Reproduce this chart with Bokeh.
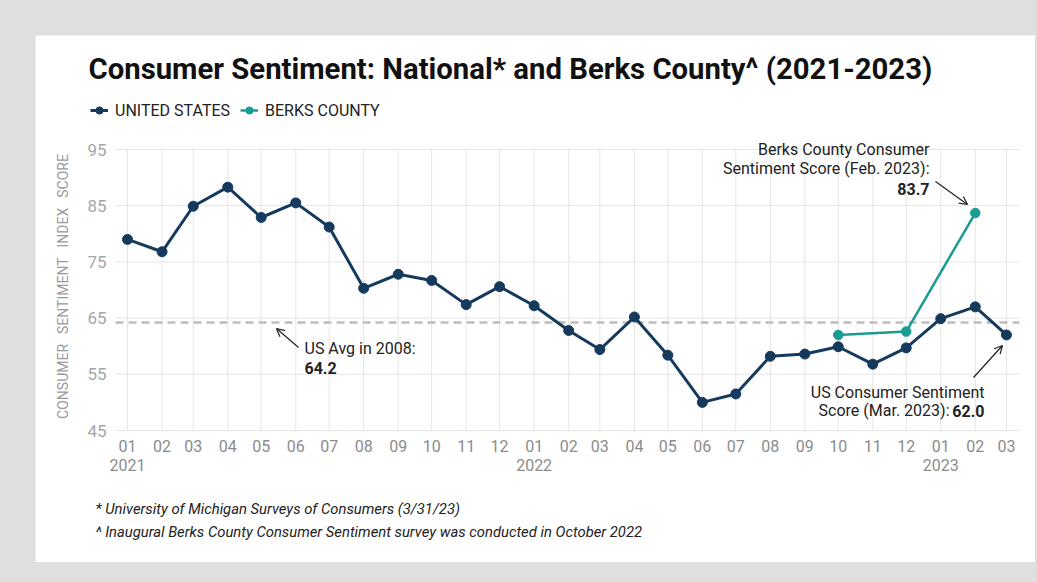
import math
import datetime as dt
from bokeh.plotting import figure
from bokeh.models import (Range1d, FixedTicker, LinearAxis, Label, Arrow, OpenHead,
                          Legend, LegendItem, Column)
from bokeh.embed import file_html
from bokeh.resources import INLINE

# ---------------- data ----------------
months = ["2021-01", "2021-02", "2021-03", "2021-04", "2021-05", "2021-06", "2021-07",
          "2021-08", "2021-09", "2021-10", "2021-11", "2021-12",
          "2022-01", "2022-02", "2022-03", "2022-04", "2022-05", "2022-06", "2022-07",
          "2022-08", "2022-09", "2022-10", "2022-11", "2022-12",
          "2023-01", "2023-02", "2023-03"]
us_values = [79.0, 76.8, 84.9, 88.3, 82.9, 85.5, 81.2, 70.3, 72.8, 71.7, 67.4, 70.6,
             67.2, 62.8, 59.4, 65.2, 58.4, 50.0, 51.5, 58.2, 58.6, 59.9, 56.8, 59.7,
             64.9, 67.0, 62.0]
berks_months = ["2022-10", "2022-12", "2023-02"]
berks_values = [62.0, 62.6, 83.7]
us_avg_2008 = 64.2
y_ticks = [45, 55, 65, 75, 85, 95]
month_labels = [m[5:] for m in months]
year_labels = {"2021-01": "2021", "2022-01": "2022", "2023-01": "2023"}

TITLE = "Consumer Sentiment: National* and Berks County^ (2021-2023)"
Y_LABEL = "\u2002\u2009".join(["CONSUMER", "SENTIMENT", "INDEX", "SCORE"])
FOOTNOTES = ["* University of Michigan Surveys of Consumers (3/31/23)",
             "^ Inaugural Berks County Consumer Sentiment survey was conducted in October 2022"]

NAVY = "#163a5e"
TEAL = "#1a9c94"
GRID = "#e6e6e6"
BG = "#dfdfdf"
INK = "#222222"
TICK = "#8c8c8c"
BASE = dt.date(2021, 1, 1)


def day_of(m):
    y, mo = m.split("-")
    return (dt.date(int(y), int(mo), 1) - BASE).days


us_x = [day_of(m) for m in months]
berks_x = [day_of(m) for m in berks_months]

# ---------------- geometry (page pixels) ----------------
PAGE_W, PAGE_H = 1037, 582
CARD_L, CARD_T, CARD_R, CARD_B = 35, 35, 1035, 562   # white card == plot frame
GL, GT, GR, GB = 115, 149, 1019, 430                # grid area on the page
GX0, GX1 = -10.8, us_x[-1] + 11.7                    # data x at grid left/right
KX = (GX1 - GX0) / (GR - GL)
KY = (max(y_ticks) - min(y_ticks)) / (GB - GT)


def dx(px):
    return GX0 + (px - GL) * KX


def dy(py):
    return max(y_ticks) - (py - GT) * KY


p = figure(width=CARD_R - CARD_L, height=CARD_B - CARD_T, output_backend="svg",
           toolbar_location=None,
           x_range=Range1d(dx(CARD_L), dx(CARD_R)), y_range=Range1d(dy(CARD_B), dy(CARD_T)),
           min_border=0, background_fill_color="white", border_fill_color="white",
           outline_line_color=None)
p.margin = (CARD_T, PAGE_W - CARD_R, PAGE_H - CARD_B, CARD_L)
p.grid.visible = False

# grid lines limited to the chart area
n_x, n_y = len(us_x), len(y_ticks)
p.segment(x0=[GX0] * n_y, y0=y_ticks, x1=[GX1] * n_y, y1=y_ticks, line_color=GRID,
          line_width=1)
p.segment(x0=us_x, y0=[min(y_ticks)] * n_x, x1=us_x, y1=[max(y_ticks)] * n_x,
          line_color=GRID, line_width=1)

# axes: labels drawn inside the card with negative standoffs
p.xaxis.ticker = FixedTicker(ticks=us_x)
p.xaxis.major_label_overrides = {x: lab for x, lab in zip(us_x, month_labels)}
p.xaxis.axis_line_color = None
p.xaxis.major_tick_line_color = None
p.xaxis.minor_tick_line_color = None
p.xaxis.major_label_text_font = "Roboto"
p.xaxis.major_label_text_font_size = "16px"
p.xaxis.major_label_text_color = TICK
p.xaxis.major_label_standoff = (447 - 14) - CARD_B

yr_ticks = [day_of(m) for m in year_labels]
year_axis = LinearAxis(ticker=FixedTicker(ticks=yr_ticks),
                       major_label_overrides={day_of(m): l for m, l in year_labels.items()})
year_axis.axis_line_color = None
year_axis.major_tick_line_color = None
year_axis.minor_tick_line_color = None
year_axis.major_label_text_font = "Roboto"
year_axis.major_label_text_font_size = "16px"
year_axis.major_label_text_color = TICK
year_axis.major_label_standoff = (466 - 14) - CARD_B
p.add_layout(year_axis, "below")

p.yaxis.ticker = FixedTicker(ticks=y_ticks)
p.yaxis.axis_line_color = None
p.yaxis.major_tick_line_color = None
p.yaxis.minor_tick_line_color = None
p.yaxis.major_label_text_font = "Roboto"
p.yaxis.major_label_text_font_size = "17px"
p.yaxis.major_label_text_color = "#a6a6a6"
p.yaxis.major_label_standoff = CARD_L - 107 - 5

p.add_layout(Label(x=dx(62), y=dy(286), text=Y_LABEL, angle=math.pi / 2,
                   text_font="Roboto", text_font_size="14px", text_color="#9a9a9a",
                   text_align="center", text_baseline="middle"))

# reference line (US average 2008)
p.segment(x0=[GX0], y0=[us_avg_2008], x1=[GX1], y1=[us_avg_2008], line_color="#bdbdbd",
          line_width=2.5, line_dash="8 5")

# series
us_line = p.line(us_x, us_values, line_color=NAVY, line_width=3)
us_pts = p.scatter(us_x, us_values, size=10, fill_color=NAVY, line_color=NAVY)
b_line = p.line(berks_x, berks_values, line_color=TEAL, line_width=2.5)
b_pts = p.scatter(berks_x, berks_values, size=9.5, fill_color=TEAL, line_color=TEAL)

legend = Legend(items=[LegendItem(label="UNITED STATES", renderers=[us_line, us_pts]),
                       LegendItem(label="BERKS COUNTY", renderers=[b_line, b_pts])],
                location=(90 - CARD_L, CARD_B - 120), orientation="horizontal",
                label_text_font="Roboto", label_text_font_size="16px",
                label_text_color=INK, glyph_width=18, glyph_height=20,
                label_height=20, label_standoff=7, spacing=10, padding=0, margin=0,
                border_line_color=None, background_fill_alpha=0)
p.add_layout(legend)


def lab(text, px, py, size="16px", style="normal", align="left", color=INK):
    p.add_layout(Label(x=dx(px), y=dy(py), text=text, text_font="Roboto",
                       text_font_size=size, text_font_style=style, text_align=align,
                       text_baseline="middle", text_color=color))


def arrow(x0, y0, x1, y1):
    p.add_layout(Arrow(x_start=dx(x0), y_start=dy(y0), x_end=dx(x1), y_end=dy(y1),
                       line_color=INK, line_width=1.2,
                       end=OpenHead(size=8, line_color=INK, line_width=1.2)))


# title and footnotes
lab(TITLE, 88, 68, size="29.3px", style="bold", color="#111111")
for note, y in zip(FOOTNOTES, [508, 531]):
    lab(note, 95, y, size="14.8px", style="italic")

# annotations
lab("US Avg in 2008:", 304, 348)
lab(f"{us_avg_2008:.1f}", 304, 367, style="bold")
arrow(298, 347, 276, 328)

lab("Berks County Consumer", 929, 149, align="right")
lab("Sentiment Score (Feb. 2023):", 929, 168, align="right")
lab(f"{berks_values[-1]:.1f}", 929, 188, style="bold", align="right")
arrow(935, 181, 967, 204)

lab("US Consumer Sentiment", 984, 392, align="right")
lab("Score (Mar. 2023):", 949, 410, align="right")
lab(f"{us_values[-1]:.1f}", 984, 410, style="bold", align="right")
arrow(973, 377, 1002, 345)

layout = Column(p, styles={"background-color": BG})

open("out.html", "w").write(file_html(layout, INLINE))
